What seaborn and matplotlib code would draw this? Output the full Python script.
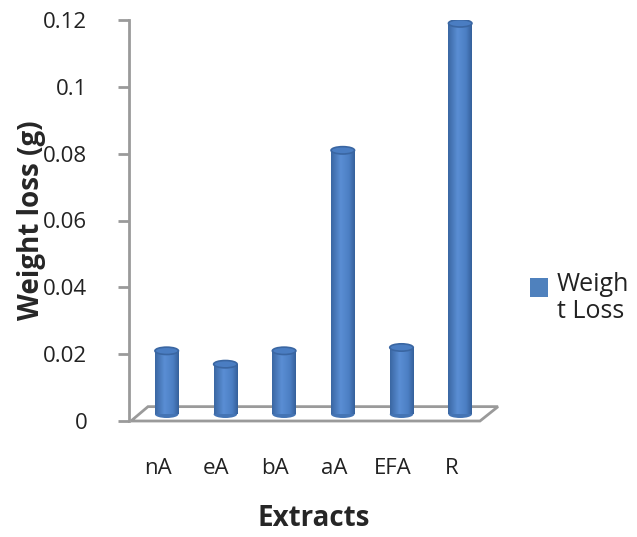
import numpy as np
import pandas as pd
import matplotlib
matplotlib.use("Agg")
import matplotlib.pyplot as plt
import seaborn as sns
from matplotlib.patches import Ellipse, Polygon, Rectangle
from matplotlib.colors import LinearSegmentedColormap
import matplotlib.transforms as mtransforms

# ---- data ----
categories = ["nA", "eA", "bA", "aA", "EFA", "R"]
weight_loss = [0.019, 0.015, 0.019, 0.079, 0.020, 0.117]
series_name = "Weigh\nt Loss"
y_ticks = [0, 0.02, 0.04, 0.06, 0.08, 0.1, 0.12]
y_ticklabels = ["0", "0.02", "0.04", "0.06", "0.08", "0.1", "0.12"]

sns.set_style("white")
plt.rcParams["font.family"] = ["Open Sans", "DejaVu Sans"]

W, H = 637, 537
fig = plt.figure(figsize=(W / 100, H / 100), dpi=100)
ax = fig.add_axes([129 / W, (H - 421) / H, 369 / W, 401 / H])

df = pd.DataFrame({"Extracts": categories, "Weight": weight_loss})
base = 0.002
sns.barplot(data=df, x="Extracts", y="Weight", color="#4f81bd", width=0.4,
            bottom=base, ax=ax, zorder=3, linewidth=0, saturation=1)

ax.set_xlim(-0.642, 5.644)
ax.set_ylim(0, 0.12)

gray = "#9a9a9a"
# floor (3D base)
px = lambda p: -0.642 + (p - 129) / 58.7
back_y = 0.0043
floor = Polygon([(px(131), 0), (px(480), 0), (px(498), back_y), (px(148), back_y)],
                closed=True, facecolor="white", edgecolor=gray, lw=2, zorder=1,
                clip_on=False)

# cylinder shading
cmap = LinearSegmentedColormap.from_list(
    "cyl", [(0, "#3a66a2"), (0.4, "#5a8ed4"), (0.75, "#4c7fc4"), (1, "#35609a")])
grad = np.linspace(0, 1, 256).reshape(1, -1)
eh = 0.0022
bars = list(ax.patches)
ax.add_patch(floor)
for bar in bars:
    x0, y0 = bar.get_x(), bar.get_y()
    w, h = bar.get_width(), bar.get_height()
    im = ax.imshow(grad, cmap=cmap, aspect="auto", extent=[x0, x0 + w, y0, y0 + h],
                   zorder=3.5, interpolation="bilinear")
    im.set_clip_path(bar)
    # rounded bottom
    ax.add_patch(Ellipse((x0 + w / 2, y0), w, eh, facecolor="#4474b4",
                         edgecolor="none", zorder=3.2))
    # top cap
    ax.add_patch(Ellipse((x0 + w / 2, y0 + h), w, eh, facecolor="#4a7dc2",
                         edgecolor="#3a66a2", lw=1.2, zorder=4))
ax.set_xlim(-0.642, 5.644)
ax.set_ylim(0, 0.12)

# axes styling
for s in ["top", "right", "bottom"]:
    ax.spines[s].set_visible(False)
ax.spines["left"].set_color(gray)
ax.spines["left"].set_linewidth(2)
ax.set_yticks(y_ticks)
ax.set_yticklabels(y_ticklabels)
ax.tick_params(axis="y", length=8, width=2, color=gray, pad=22, labelsize=16,
               labelcolor="#222222", left=True)
ax.tick_params(axis="x", length=0, pad=27, labelsize=16, labelcolor="#222222")
offset = mtransforms.ScaledTranslation(-9 / 100, 0, fig.dpi_scale_trans)
for lab in ax.get_xticklabels():
    lab.set_transform(lab.get_transform() + offset)

ax.set_xlabel("Extracts", fontsize=20, fontweight="bold", labelpad=18)
ax.set_ylabel("Weight loss (g)", fontsize=20, fontweight="bold", labelpad=-2)
ax.grid(False)

# legend (drawn in figure pixels)
fig.patches.append(Rectangle((530 / W, 1 - 297 / H), 18 / W, 19 / H,
                             transform=fig.transFigure, facecolor="#4f81bd",
                             edgecolor="none"))
fig.text(557 / W, 1 - 272 / H, series_name, fontsize=18, color="#222222",
         va="top", ha="left", linespacing=1.1)

fig.savefig("out.png", dpi=100)
